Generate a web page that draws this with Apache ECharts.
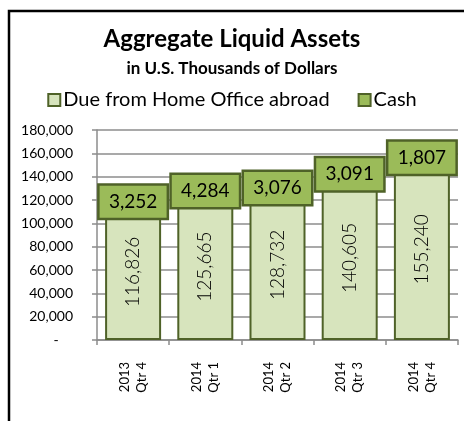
<!DOCTYPE html>
<html>
<head>
<meta charset="utf-8">
<script src="https://cdn.jsdelivr.net/npm/echarts@6/dist/echarts.min.js"></script>
<style>
html,body{margin:0;padding:0;background:#fff;}
#main{width:464px;height:421px;}
</style>
</head>
<body>
<div id="main"></div>
<script>
var categories = ['2013\nQtr 4', '2014\nQtr 1', '2014\nQtr 2', '2014\nQtr 3', '2014\nQtr 4'];
var dueFromHO = [116826, 125665, 128732, 140605, 155240];
var cash = [3252, 4284, 3076, 3091, 1807];
var yTicks = [0, 20000, 40000, 60000, 80000, 100000, 120000, 140000, 160000, 180000];

var FONT = 'Lato, "Open Sans", sans-serif';
function fmt(v) { return v.toLocaleString('en-US'); }

var chart = echarts.init(document.getElementById('main'), null, {renderer: 'canvas'});
chart.setOption({
  animation: false,
  backgroundColor: '#fff',
  textStyle: {fontFamily: FONT},
  title: {
    text: 'Aggregate Liquid Assets',
    subtext: 'in U.S. Thousands of Dollars',
    left: 'center',
    top: 22,
    itemGap: 9,
    textStyle: {fontSize: 24, fontWeight: 'bold', color: '#000', fontFamily: FONT},
    subtextStyle: {fontSize: 17, fontWeight: 'bold', color: '#000', fontFamily: FONT}
  },
  legend: {
    top: 85,
    left: 'center',
    itemWidth: 12,
    itemHeight: 12,
    itemGap: 28,
    icon: 'rect',
    textStyle: {fontSize: 20, color: '#000', fontFamily: FONT, padding: [0, 0, 0, -2]},
    data: ['Due from Home Office abroad', 'Cash']
  },
  graphic: [{
    type: 'rect',
    shape: {x: 9, y: 11, width: 470, height: 430},
    style: {fill: 'none', stroke: '#000', lineWidth: 2.5},
    silent: true
  }],
  grid: {left: 97, right: 6, top: 130, bottom: 81},
  xAxis: {
    type: 'category',
    data: categories,
    axisLine: {lineStyle: {color: '#8c8c8c', width: 1.5}},
    axisTick: {show: true, length: 5, lineStyle: {color: '#8c8c8c', width: 1.5}},
    axisLabel: {rotate: 90, margin: 22, fontSize: 13, color: '#000', lineHeight: 17, fontFamily: FONT}
  },
  yAxis: {
    type: 'value',
    min: 0,
    max: yTicks[yTicks.length - 1],
    interval: yTicks[1] - yTicks[0],
    axisLine: {show: true, lineStyle: {color: '#8c8c8c', width: 1.5}},
    axisTick: {show: true, length: 5, lineStyle: {color: '#8c8c8c', width: 1.5}},
    splitLine: {lineStyle: {color: '#8c8c8c', width: 1.5}},
    axisLabel: {
      fontSize: 14, color: '#000', margin: 24, fontFamily: FONT,
      formatter: function (v) { return v === 0 ? '-    ' : fmt(v); }
    }
  },
  series: [{
    name: 'Due from Home Office abroad',
    type: 'bar',
    stack: 'total',
    barWidth: 56,
    data: dueFromHO,
    itemStyle: {color: '#d7e4bd', borderColor: '#4f6228', borderWidth: 2},
    label: {
      show: true,
      position: 'inside',
      rotate: 90,
      fontSize: 19,
      fontWeight: 300,
      color: '#000',
      fontFamily: FONT,
      formatter: function (p) { return fmt(p.value); }
    }
  }, {
    name: 'Cash',
    type: 'bar',
    stack: 'total',
    barWidth: 56,
    data: cash,
    itemStyle: {color: '#9bbb59', borderColor: '#4f6228', borderWidth: 2},
    label: {
      show: true,
      position: 'inside',
      fontSize: 19,
      color: '#000',
      fontFamily: FONT,
      backgroundColor: '#9bbb59',
      borderColor: '#4f6228',
      borderWidth: 2.5,
      width: 67,
      height: 32,
      lineHeight: 32,
      align: 'center',
      verticalAlign: 'middle',
      padding: 0,
      formatter: function (p) { return fmt(p.value); }
    }
  }]
});
</script>
</body>
</html>
